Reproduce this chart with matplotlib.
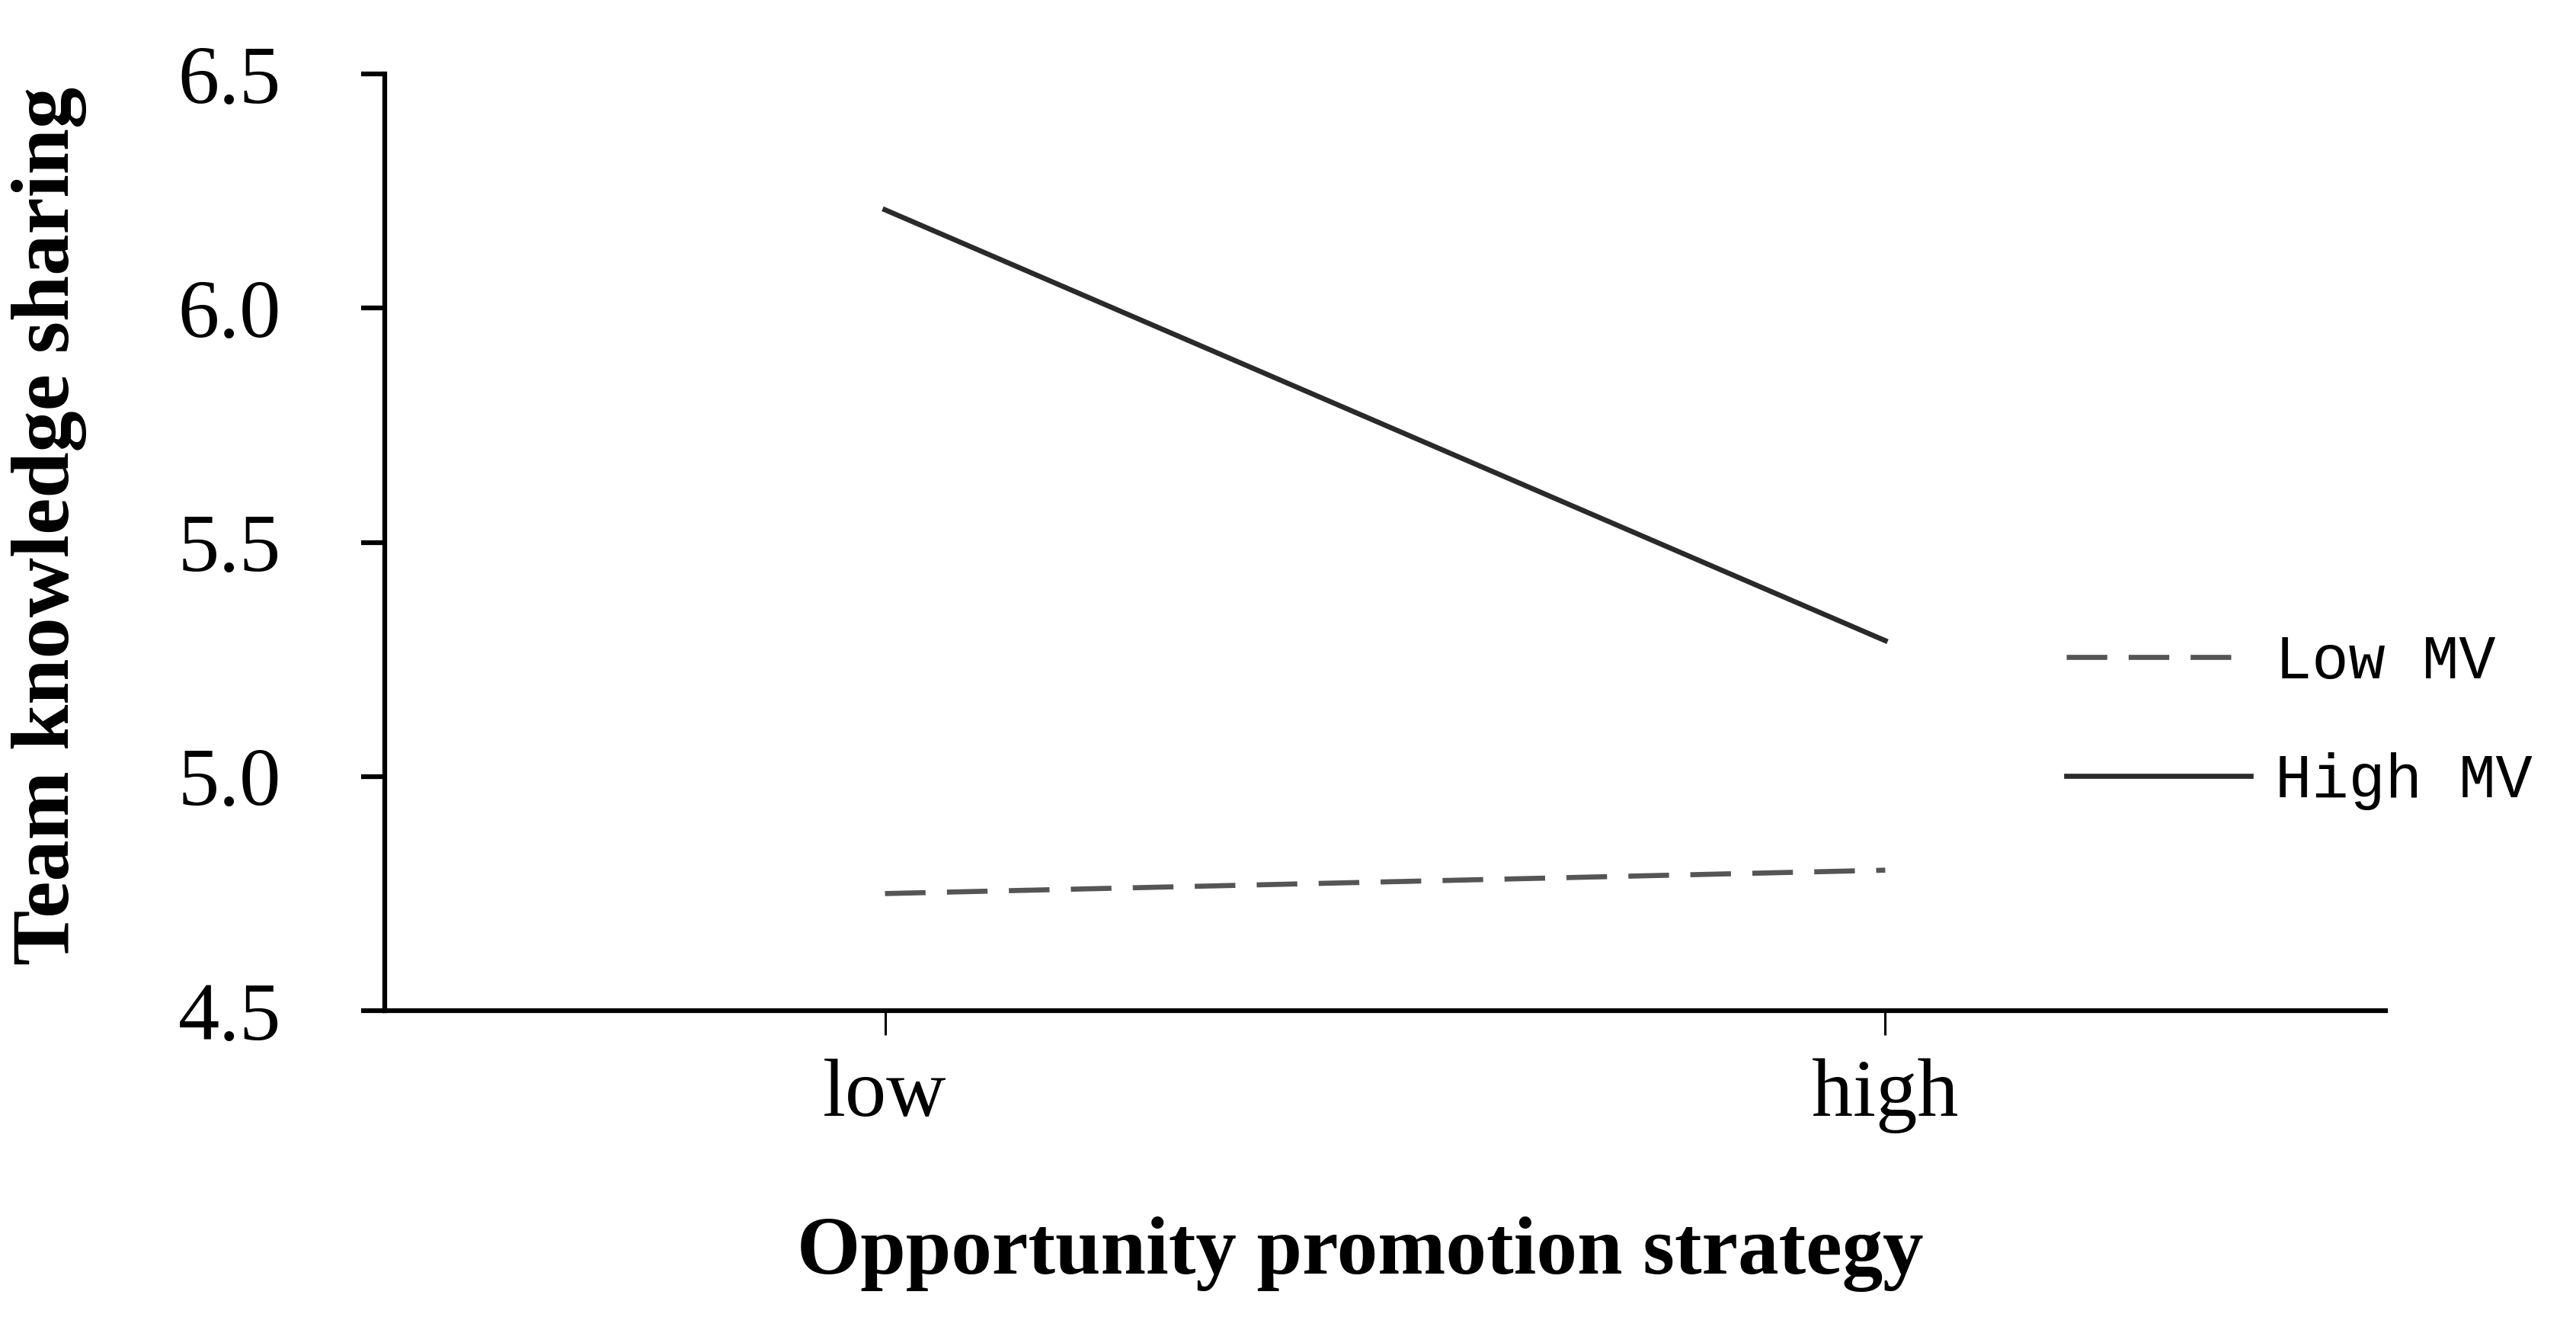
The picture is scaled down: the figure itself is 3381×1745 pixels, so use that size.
import matplotlib
matplotlib.use('Agg')
import matplotlib.pyplot as plt

# data
categories = ['low', 'high']
low_mv = [4.75, 4.80]
high_mv = [6.21, 5.29]
yticks = [4.5, 5.0, 5.5, 6.0, 6.5]

fig = plt.figure(figsize=(33.81, 17.45), dpi=100)
ax = fig.add_axes([0.1494, 0.2401, 0.9260 - 0.1494, 0.9444 - 0.2401])

x = list(range(len(categories)))
ax.plot(x, low_mv, color='#555555', lw=4.8, ls=(0, (8, 4.2)), label='Low MV')
ax.plot(x, high_mv, color='#2a2a2a', lw=4.8, ls='-', label='High MV')

ax.set_xlim(-0.5, 1.5)
ax.set_ylim(4.5, 6.5)
ax.set_xticks(x)
ax.set_xticklabels(categories, family='Liberation Serif', fontsize=78)
ax.set_yticks(yticks)
ax.set_yticklabels(['%.1f' % v for v in yticks], family='Liberation Serif', fontsize=78)

for s in ['top', 'right']:
    ax.spines[s].set_visible(False)
for s in ['left', 'bottom']:
    ax.spines[s].set_linewidth(4.5)
ax.tick_params(axis='y', length=22, width=4.5, pad=76)
ax.tick_params(axis='x', length=23, width=2.2, pad=22)

# axis titles
fig.text(0.528, 0.057, 'Opportunity promotion strategy', family='Liberation Serif',
         fontweight='bold', fontsize=77, ha='center', va='center')
fig.text(0.0192, 0.6046, 'Team knowledge sharing', family='Liberation Serif',
         fontweight='bold', fontsize=78, ha='center', va='center', rotation=90)

leg = ax.legend(loc='center left', bbox_to_anchor=(0.8021, 0.4573),
                bbox_transform=fig.transFigure, frameon=False,
                prop={'family': 'Liberation Mono', 'size': 58},
                handlelength=3.0, handletextpad=0.4, labelspacing=1.0,
                borderpad=0, borderaxespad=0)

fig.savefig('out.png', dpi=100)
